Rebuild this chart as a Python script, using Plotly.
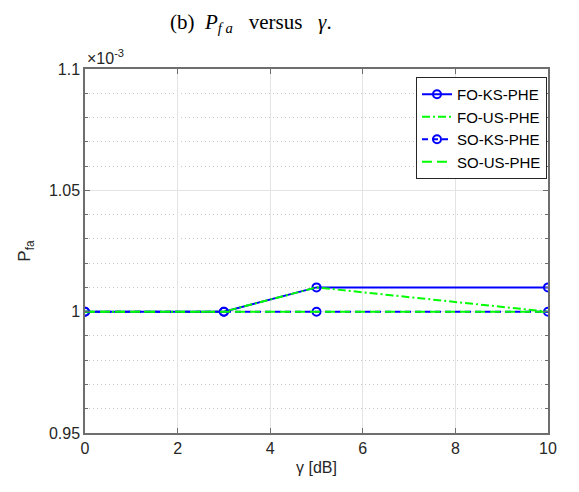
import plotly.graph_objects as go

gamma_db = [0, 3, 5, 10]
fo_ks_phe = [1.00e-3, 1.00e-3, 1.01e-3, 1.01e-3]
fo_us_phe = [1.00e-3, 1.00e-3, 1.01e-3, 1.00e-3]
so_ks_phe = [1.00e-3, 1.00e-3, 1.00e-3, 1.00e-3]
so_us_phe = [1.00e-3, 1.00e-3, 1.00e-3, 1.00e-3]

y_tickvals = [0.95e-3, 1.00e-3, 1.05e-3, 1.10e-3]
y_ticktext = ["0.95", "1", "1.05", "1.1"]
x_tickvals = [0, 2, 4, 6, 8, 10]

BLUE = "#0000ff"
GREEN = "#00ff00"

fig = go.Figure()
fig.add_trace(go.Scatter(x=gamma_db, y=fo_ks_phe, name="FO-KS-PHE", mode="lines+markers",
                         line=dict(color=BLUE, width=2),
                         marker=dict(symbol="circle-open", size=8, color=BLUE, line=dict(width=2))))
fig.add_trace(go.Scatter(x=gamma_db, y=fo_us_phe, name="FO-US-PHE", mode="lines",
                         line=dict(color=GREEN, width=2, dash="8px,3px,2px,3px")))
fig.add_trace(go.Scatter(x=gamma_db, y=so_ks_phe, name="SO-KS-PHE", mode="lines+markers",
                         line=dict(color=BLUE, width=2, dash="6px,4px"),
                         marker=dict(symbol="circle-open", size=8, color=BLUE, line=dict(width=2))))
fig.add_trace(go.Scatter(x=gamma_db, y=so_us_phe, name="SO-US-PHE", mode="lines",
                         line=dict(color=GREEN, width=2, dash="10px,5px")))

axis_col = "#6e6e6e"
text_col = "#262626"
font_family = "Liberation Sans, Arial, sans-serif"

# page body has an 8px margin, so figure coords = reference coords - 8
L, T, PW, PH = 77, 61, 463, 364
W, H = 571, 484

fig.update_layout(
    width=W, height=H,
    margin=dict(l=L, r=W - L - PW, t=T, b=H - T - PH),
    paper_bgcolor="white", plot_bgcolor="white",
    font=dict(family=font_family, size=16, color=text_col),
    showlegend=True,
    legend=dict(x=(539 - L) / PW, y=1 - (69 - T) / PH, xanchor="right", yanchor="top",
                bgcolor="white", bordercolor="#262626", borderwidth=1,
                font=dict(size=15, color="#000000"), tracegroupgap=0,
                itemwidth=30),
    xaxis=dict(range=[0, 10], tickvals=x_tickvals, showgrid=True, gridcolor="#e3e3e3",
               gridwidth=1, zeroline=False, showline=True, linecolor=axis_col, linewidth=1.5,
               mirror="allticks", ticks="inside", ticklen=5, tickcolor=axis_col,
               tickfont=dict(size=16, color=text_col),
               title=dict(text="γ [dB]", font=dict(size=16, color=text_col), standoff=6)),
    yaxis=dict(range=[0.95e-3, 1.10e-3], tickvals=y_tickvals, ticktext=y_ticktext,
               showgrid=True, gridcolor="#e3e3e3", gridwidth=1, zeroline=False,
               showline=True, linecolor=axis_col, linewidth=1.5,
               mirror="allticks", ticks="inside", ticklen=5, tickcolor=axis_col,
               tickfont=dict(size=16, color=text_col),
               minor=dict(dtick=0.01e-3, tick0=0.95e-3, showgrid=True, gridcolor="#c8c8c8",
                          griddash="1px,3px", gridwidth=1, ticks="inside", ticklen=3,
                          tickcolor=axis_col),
               title=dict(text="P<sub>fa</sub>", font=dict(size=17, color=text_col), standoff=14)),
)

fig.add_annotation(text="(b)&nbsp;&nbsp;<i>P</i><sub><i>f a</i></sub>&nbsp;&nbsp;&nbsp;versus&nbsp;&nbsp;&nbsp;<i>γ</i>.",
                   xref="paper", yref="paper", x=(160 - L) / PW, y=1 + (T - 15) / PH,
                   xanchor="left", yanchor="middle", showarrow=False,
                   font=dict(family="Liberation Serif, Times New Roman, serif", size=21, color="#000000"))
fig.add_annotation(text="×10<sup>-3</sup>", xref="paper", yref="paper", x=0, y=1,
                   xanchor="left", yanchor="bottom", showarrow=False, yshift=0,
                   font=dict(size=16, color=text_col))

fig.write_html("out.html")
